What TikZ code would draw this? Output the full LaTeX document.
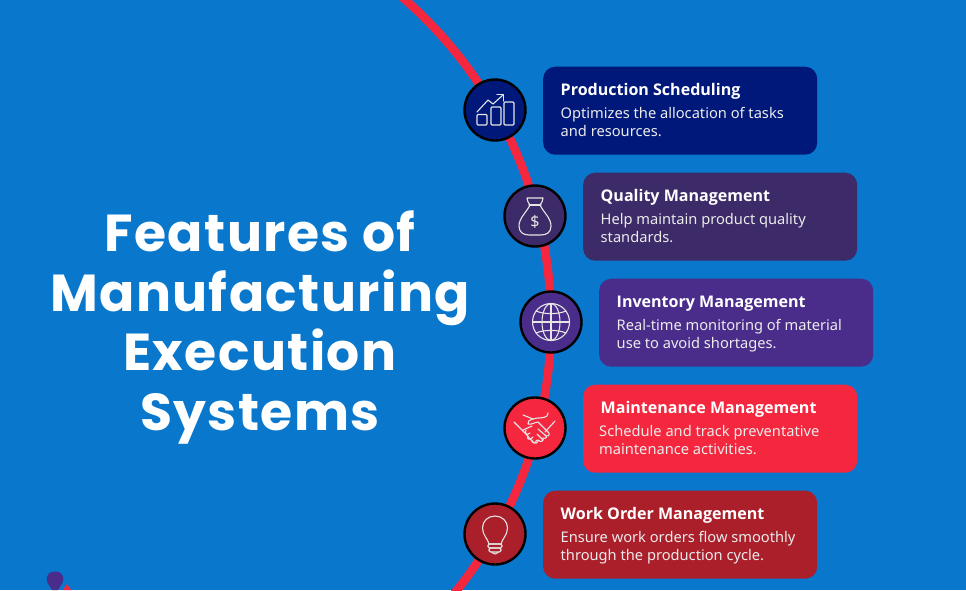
\documentclass[tikz,border=0pt]{standalone}
\usepackage{fontspec}
\usepackage{xcolor}
\setmainfont{Noto Sans}
\newfontfamily\titlefont[LetterSpace=2.7]{Poppins Bold}
\newfontfamily\entetefont{Open Sans Bold}
\usetikzlibrary{calc}
\definecolor{bgblue}{HTML}{0877CC}
\definecolor{arcred}{HTML}{F4273F}
\definecolor{cardnavy}{HTML}{00187A}
\definecolor{cardplum}{HTML}{3D2A68}
\definecolor{cardviolet}{HTML}{4A2D8B}
\definecolor{carddark}{HTML}{AB1F2B}
\tikzset{
Carte/.style={
 rounded corners=12pt,
 minimum width=274pt,
 minimum height=88pt,
 inner sep=0pt,
 fill=#1
 },
Rond/.style={
 circle,
 draw=black,
 line width=2.4pt,
 minimum size=61pt,
 inner sep=0pt,
 fill=#1
 },
Titre/.style={
 anchor=base,
 text=white,
 inner sep=0pt,
 font=\titlefont\fontsize{52}{60}\selectfont
 },
Entete/.style={
 anchor=base west,
 text=white,
 inner sep=0pt,
 font=\entetefont\fontsize{16.05}{20}\selectfont
 },
Corps/.style={
 anchor=base west,
 text=white!92!black,
 inner sep=0pt,
 font=\fontsize{14.65}{18}\selectfont
 },
Icone/.style={
 draw=white!90!black,
 line width=1.1pt,
 line join=round,
 line cap=round
 }
}
\begin{document}
\begin{tikzpicture}[x=1pt,y=-1pt]
\useasboundingbox (0,0) rectangle (966,590);
\fill[bgblue] (0,0) rectangle (966,590);
% corner marks
\fill[cardviolet] (47,581) .. controls (46,574) and (50,571.5) .. (55,571.5) .. controls (60,571.5) and (64,574) .. (63,581) .. controls (62,585) and (59,587) .. (58,590) -- (52,590) .. controls (51,587) and (48,585) .. (47,581) -- cycle;
\fill[arcred] (63,590) -- (67,584) -- (71,590) -- cycle;
% the arc
\begin{scope}
\clip (0,0) rectangle (966,590);
\draw[arcred,line width=8.5pt] (122,322) circle (429pt);
\end{scope}
% title
\node[Titre] (titreA) at (260,251) {Features of};
\node[Titre] (titreB) at (260,311) {Manufacturing};
\node[Titre] (titreC) at (260,370) {Execution};
\node[Titre] (titreD) at (260,430) {Systems};
% cards
\node[Carte=cardnavy,anchor=north west] (carteA) at (543,66.5) {};
\node[Carte=cardplum,anchor=north west] (carteB) at (583,172.5) {};
\node[Carte=cardviolet,anchor=north west] (carteC) at (599,278.5) {};
\node[Carte=arcred,anchor=north west] (carteD) at (583,384.5) {};
\node[Carte=carddark,anchor=north west] (carteE) at (543,490.5) {};
\node[Entete] (enteteA) at ($(carteA.north west)+(17.5,28.7)$) {Production Scheduling};
\node[Corps] (corpsAa) at ($(carteA.north west)+(17.5,52)$) {Optimizes the allocation of tasks};
\node[Corps] (corpsAb) at ($(carteA.north west)+(17.5,70)$) {and resources.};
\node[Entete] (enteteB) at ($(carteB.north west)+(17.5,28.7)$) {Quality Management};
\node[Corps] (corpsBa) at ($(carteB.north west)+(17.5,52)$) {Help maintain product quality};
\node[Corps] (corpsBb) at ($(carteB.north west)+(17.5,70)$) {standards.};
\node[Entete] (enteteC) at ($(carteC.north west)+(17.5,28.7)$) {Inventory Management};
\node[Corps] (corpsCa) at ($(carteC.north west)+(17.5,52)$) {Real-time monitoring of material};
\node[Corps] (corpsCb) at ($(carteC.north west)+(17.5,70)$) {use to avoid shortages.};
\node[Entete] (enteteD) at ($(carteD.north west)+(17.5,28.7)$) {Maintenance Management};
\node[Corps] (corpsDa) at ($(carteD.north west)+(16,52)$) {Schedule and track preventative};
\node[Corps] (corpsDb) at ($(carteD.north west)+(16,70)$) {maintenance activities.};
\node[Entete] (enteteE) at ($(carteE.north west)+(17.5,28.7)$) {Work Order Management};
\node[Corps] (corpsEa) at ($(carteE.north west)+(17.5,52)$) {Ensure work orders flow smoothly};
\node[Corps] (corpsEb) at ($(carteE.north west)+(17.5,70)$) {through the production cycle.};
% circles
\node[Rond=cardnavy] (rondA) at (495,110) {};
\node[Rond=cardplum] (rondB) at (535,216) {};
\node[Rond=cardviolet] (rondC) at (551,322) {};
\node[Rond=arcred] (rondD) at (535,428) {};
\node[Rond=carddark] (rondE) at (495,534) {};
% chart icon
\begin{scope}[shift={(rondA.center)},Icone]
\draw[rounded corners=1pt] (-18,4.5) rectangle (-8,15);
\draw[rounded corners=1pt] (-4,-3) rectangle (6,15);
\draw[rounded corners=1pt] (9,-8) rectangle (19,15);
\draw (-18,2) -- (-7,-10) -- (-2,-6) -- (8,-15);
\draw (2,-15.5) -- (8.5,-15.5) -- (8.5,-9);
\end{scope}
% money bag icon
\begin{scope}[shift={(rondB.center)},Icone]
\draw (-5,-11) .. controls (-7,-14) and (-8,-16) .. (-8,-18) -- (8,-18) .. controls (8,-16) and (7,-14) .. (5,-11);
\draw (-6,-11) -- (6,-11);
\draw (-5,-11) .. controls (-9,-3) and (-16,2) .. (-16,10) .. controls (-16,16) and (-12,19) .. (-6,19) -- (6,19) .. controls (12,19) and (16,16) .. (16,10) .. controls (16,2) and (9,-3) .. (5,-11);
\node[draw=none,text=white!90!black,inner sep=0pt,font=\fontsize{16}{16}\selectfont] (dollar) at (0,6) {\$};
\end{scope}
% globe icon
\begin{scope}[shift={(rondC.center)},Icone]
\draw (0,0) circle (18.5pt);
\draw (0,0) ellipse (9pt and 18.5pt);
\draw (0,-18.5) -- (0,18.5);
\draw (-18.5,0) -- (18.5,0);
\draw (-15,-11) .. controls (-7,-7.5) and (7,-7.5) .. (15,-11);
\draw (-15,11) .. controls (-7,7.5) and (7,7.5) .. (15,11);
\end{scope}
% handshake icon
\begin{scope}[shift={(rondD.center)},Icone]
\draw (-21,-6) -- (-10,5);
\draw (20,-7) -- (10,4);
\draw (-12,-13) -- (-2,-9) .. controls (-6,-8) and (-8,-6) .. (-7,-4) .. controls (-3,-3) and (0,-6) .. (3,-6) -- (14,5) .. controls (15,8) and (12,9) .. (10,7) -- (3,1);
\draw (-2,-9) .. controls (3,-11) and (8,-9) .. (12,-12) -- (13,-15);
\draw (-10,5) -- (-3,13) .. controls (0,17) and (3,15) .. (3,12) .. controls (6,15) and (9,13) .. (8,10) .. controls (11,11) and (13,9) .. (10,7);
\draw (-12,2) -- (-3,-2);
\draw (-9,2) .. controls (-11,5) and (-8,8) .. (-5,5);
\draw (-7,8) .. controls (-9,11) and (-5,13) .. (-2,9);
\draw (-3,12) .. controls (-4,15) and (0,16) .. (2,12);
\draw (2,6) -- (8,12);
\end{scope}
% bulb icon
\begin{scope}[shift={(rondE.center)},Icone]
\draw (-6,10) .. controls (-7,5) and (-12.5,1) .. (-12.5,-6) .. controls (-12.5,-13) and (-7,-18) .. (0,-18) .. controls (7,-18) and (12.5,-13) .. (12.5,-6) .. controls (12.5,1) and (7,5) .. (6,10) -- cycle;
\draw[rounded corners=1.5pt] (-7,10) rectangle (7,14);
\draw[rounded corners=1.5pt] (-6,14) rectangle (6,18);
\draw (-3,18) .. controls (-2,20.5) and (2,20.5) .. (3,18);
\end{scope}
\end{tikzpicture}
\end{document}
